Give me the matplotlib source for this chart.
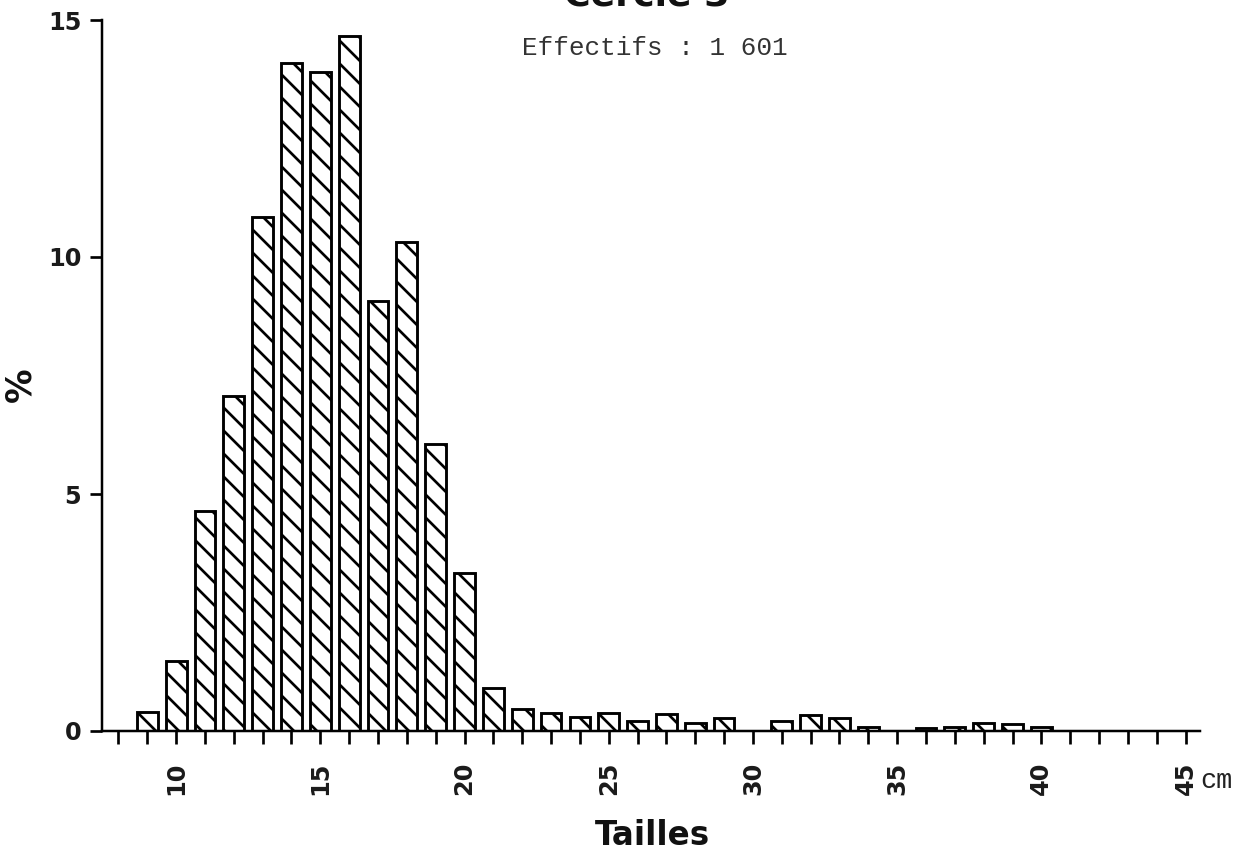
import matplotlib.pyplot as plt
import numpy as np

# size classes (cm) and percentage of fish in each
sizes = list(range(8, 46))
percent = [0, 0.40, 1.47, 4.64, 7.07, 10.84, 14.10, 13.90, 14.67, 9.08,
           10.32, 6.05, 3.33, 0.91, 0.46, 0.39, 0.29, 0.39, 0.22, 0.35,
           0.16, 0.27, 0, 0.22, 0.34, 0.27, 0.08, 0, 0.06, 0.08,
           0.16, 0.15, 0.08, 0, 0, 0, 0, 0]
x_labels = [10, 15, 20, 25, 30, 35, 40, 45]
y_ticks = [0, 5, 10, 15]

bold_font = ['DejaVu Sans']
mono_font = ['Liberation Mono', 'DejaVu Sans Mono']

dpi = 138
W, H = 1237, 852
plt.rcParams['hatch.linewidth'] = 1.4
fig = plt.figure(figsize=(W / dpi, H / dpi), dpi=dpi)
ax = fig.add_axes([102 / W, 1 - 731 / H, (1200 - 102) / W, (731 - 20) / H])

ax.bar(sizes, percent, width=0.72, color='white', edgecolor='black',
       linewidth=1.5, hatch='\\\\')

ax.set_xlim(7.43, 45.5)
ax.set_ylim(0, 15)
ax.spines['top'].set_visible(False)
ax.spines['right'].set_visible(False)
ax.spines['left'].set_linewidth(1.3)
ax.spines['bottom'].set_linewidth(1.3)

ax.set_xticks(x_labels)
ax.set_xticks(sizes, minor=True)
ax.set_xticklabels([str(v) for v in x_labels], rotation=90,
                   fontsize=12.5, fontweight='heavy', family=bold_font, color='#1a1a1a')
ax.tick_params(axis='x', which='both', length=6.8, width=1.4, direction='out', pad=9)

ax.set_yticks(y_ticks)
ax.set_yticklabels([str(v) for v in y_ticks], fontsize=12.5,
                   fontweight='heavy', family=bold_font, color='#1a1a1a')
ax.tick_params(axis='y', length=6.3, width=1.4, direction='out', pad=4.5)

fig.text(20 / W, 1 - 385 / H, '%', rotation=90, fontsize=18, fontweight='heavy',
         family=bold_font, ha='center', va='center', color='#111')
fig.text(652 / W, 1 - 845 / H, 'Tailles', fontsize=17, fontweight='heavy',
         family=bold_font, ha='center', va='baseline', color='#111')
fig.text(1200 / W, 1 - 788 / H, 'cm', fontsize=14, family=mono_font,
         ha='left', va='baseline', color='#222')
fig.text(522 / W, 1 - 55 / H, 'Effectifs : 1 601', fontsize=13.6,
         family=mono_font, ha='left', va='baseline', color='#333')
fig.text(647 / W, 1 - 6 / H, 'Cercle 3', fontsize=19, fontweight='bold',
         family=bold_font, ha='center', va='baseline', color='#111')

fig.savefig('out.png', dpi=dpi)
